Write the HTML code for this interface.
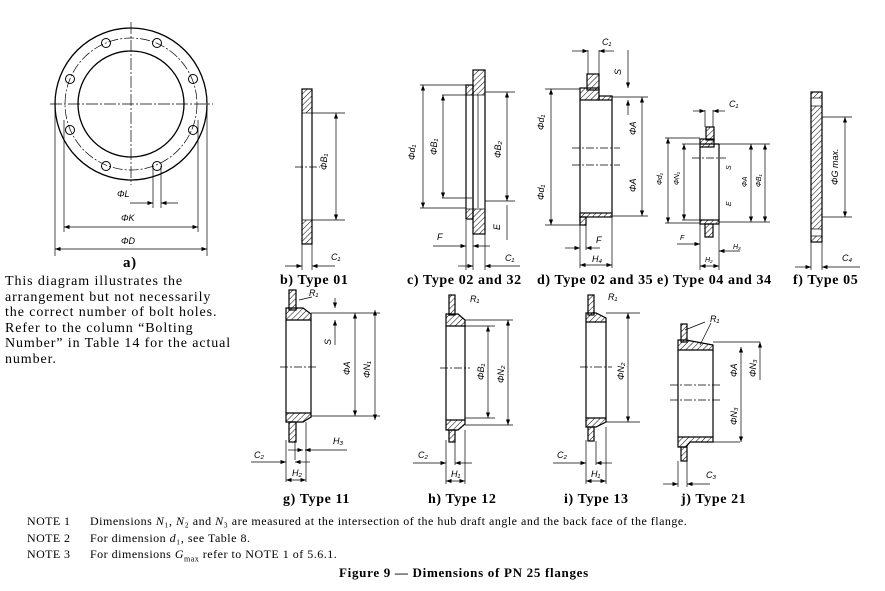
<!DOCTYPE html>
<html><head><meta charset="utf-8"><style>
body{margin:0;background:#fff;width:885px;height:591px;overflow:hidden;position:relative;font-family:"Liberation Serif",serif;color:#000}
.t{position:absolute;white-space:nowrap}
.b{font-weight:bold;font-size:14px;letter-spacing:0.6px}
svg text{font-family:"Liberation Sans",sans-serif;font-style:italic;font-size:9px;fill:#000}
</style></head><body>
<svg width="885" height="591" style="position:absolute;left:0;top:0">
<defs>
<pattern id="h" width="4" height="4" patternUnits="userSpaceOnUse" patternTransform="rotate(45)"><line x1="0" y1="0" x2="0" y2="4" stroke="#000" stroke-width="1"/></pattern>
<marker id="a" markerWidth="8" markerHeight="6" refX="8" refY="3" orient="auto-start-reverse"><path d="M0,0L8,3L0,6z" fill="#000"/></marker>
</defs>
<g fill="none" stroke="#000" stroke-width="0.7">
<circle cx="131" cy="104" r="76" stroke-width="1.3"/>
<circle cx="131" cy="104" r="66" stroke-dasharray="10,2,2,2"/>
<circle cx="131" cy="104" r="53" stroke-width="1.3"/>
<line x1="50" y1="104" x2="213" y2="104" stroke-dasharray="12,2,2,2"/>
<line x1="131" y1="22" x2="131" y2="185" stroke-dasharray="12,2,2,2"/>
<g stroke-width="1">
<circle cx="106" cy="43" r="4.5"/><circle cx="157" cy="43" r="4.5"/>
<circle cx="70" cy="79" r="4.5"/><circle cx="193" cy="79" r="4.5"/>
<circle cx="70" cy="130" r="4.5"/><circle cx="193" cy="130" r="4.5"/>
<circle cx="106" cy="166" r="4.5"/><circle cx="157" cy="166" r="4.5"/>
</g>
<line x1="55" y1="104" x2="55" y2="256"/><line x1="207" y1="104" x2="207" y2="256"/>
<line x1="64" y1="120" x2="64" y2="232"/><line x1="198" y1="120" x2="198" y2="232"/>
<line x1="153" y1="166" x2="153" y2="208"/><line x1="161" y1="166" x2="161" y2="208"/>
<line x1="130" y1="203" x2="153" y2="203" marker-end="url(#a)"/><line x1="178" y1="203" x2="161" y2="203" marker-end="url(#a)"/>
<line x1="64" y1="227" x2="198" y2="227" marker-start="url(#a)" marker-end="url(#a)"/>
<line x1="55" y1="249" x2="207" y2="249" marker-start="url(#a)" marker-end="url(#a)"/>
<rect x="302" y="89" width="10" height="155" stroke-width="1.2"/>
<rect x="302" y="89" width="10" height="24" fill="url(#h)"/><rect x="302" y="220" width="10" height="24" fill="url(#h)"/>
<line x1="312" y1="113" x2="345" y2="113"/><line x1="312" y1="220" x2="345" y2="220"/>
<line x1="336" y1="113" x2="336" y2="220" marker-start="url(#a)" marker-end="url(#a)"/>
<line x1="295" y1="167" x2="320" y2="167" stroke-dasharray="8,2,2,2"/>
<line x1="302" y1="244" x2="302" y2="270"/><line x1="312" y1="244" x2="312" y2="270"/>
<line x1="285" y1="266" x2="302" y2="266" marker-end="url(#a)"/><line x1="335" y1="266" x2="312" y2="266" marker-end="url(#a)"/>
<rect x="473" y="70" width="12" height="164" stroke-width="1.2"/>
<rect x="466" y="85" width="7" height="134" stroke-width="1.2"/>
<line x1="478" y1="95" x2="478" y2="208"/>
<rect x="473" y="70" width="12" height="25" fill="url(#h)"/><rect x="473" y="209" width="12" height="25" fill="url(#h)"/>
<rect x="466" y="85" width="7" height="10" fill="url(#h)"/><rect x="466" y="209" width="7" height="10" fill="url(#h)"/>
<line x1="420" y1="85" x2="466" y2="85"/><line x1="420" y1="208" x2="466" y2="208"/>
<line x1="423" y1="85" x2="423" y2="208" marker-start="url(#a)" marker-end="url(#a)"/>
<line x1="442" y1="95" x2="472" y2="95"/><line x1="442" y1="198" x2="472" y2="198"/>
<line x1="443" y1="95" x2="443" y2="198" marker-start="url(#a)" marker-end="url(#a)"/>
<line x1="485" y1="92" x2="515" y2="92"/><line x1="485" y1="201" x2="515" y2="201"/>
<line x1="507" y1="92" x2="507" y2="201" marker-start="url(#a)" marker-end="url(#a)"/>
<line x1="507" y1="205" x2="507" y2="240"/>
<line x1="433" y1="246" x2="466" y2="246" marker-end="url(#a)"/><line x1="490" y1="246" x2="473" y2="246" marker-end="url(#a)"/>
<line x1="466" y1="220" x2="466" y2="270"/><line x1="473" y1="234" x2="473" y2="270"/><line x1="485" y1="234" x2="485" y2="270"/>
<line x1="458" y1="266" x2="473" y2="266" marker-end="url(#a)"/><line x1="520" y1="266" x2="485" y2="266" marker-end="url(#a)"/>
<rect x="587" y="74" width="12" height="16" fill="url(#h)" stroke-width="1.2"/>
<rect x="580" y="88" width="19" height="12" fill="url(#h)" stroke-width="1.2"/>
<rect x="599" y="96" width="13" height="4" fill="url(#h)" stroke-width="1.2"/>
<line x1="580" y1="100" x2="580" y2="223" stroke-width="1.2"/><line x1="612" y1="100" x2="612" y2="213" stroke-width="1.2"/>
<rect x="580" y="213" width="32" height="4" fill="url(#h)" stroke-width="1.2"/>
<rect x="580" y="217" width="6" height="8" fill="url(#h)" stroke-width="1.2"/>
<line x1="572" y1="148" x2="620" y2="148" stroke-dasharray="8,2,2,2"/><line x1="572" y1="165" x2="620" y2="165" stroke-dasharray="8,2,2,2"/>
<line x1="545" y1="89" x2="580" y2="89"/><line x1="545" y1="225" x2="580" y2="225"/>
<line x1="551" y1="89" x2="551" y2="225" marker-start="url(#a)" marker-end="url(#a)"/>
<line x1="612" y1="97" x2="648" y2="97"/><line x1="612" y1="216" x2="648" y2="216"/>
<line x1="642" y1="97" x2="642" y2="216" marker-start="url(#a)" marker-end="url(#a)"/>
<line x1="628" y1="50" x2="628" y2="88" marker-end="url(#a)"/><line x1="628" y1="115" x2="628" y2="100" marker-end="url(#a)"/>
<line x1="588" y1="50" x2="588" y2="74"/><line x1="599" y1="50" x2="599" y2="74"/>
<line x1="572" y1="51" x2="588" y2="51" marker-end="url(#a)"/><line x1="614" y1="51" x2="599" y2="51" marker-end="url(#a)"/>
<line x1="580" y1="225" x2="580" y2="268"/><line x1="612" y1="217" x2="612" y2="268"/><line x1="586" y1="225" x2="586" y2="250"/>
<line x1="565" y1="248" x2="580" y2="248" marker-end="url(#a)"/><line x1="600" y1="248" x2="586" y2="248" marker-end="url(#a)"/>
<line x1="580" y1="265" x2="612" y2="265" marker-start="url(#a)" marker-end="url(#a)"/>
<rect x="706" y="127" width="8" height="13" fill="url(#h)" stroke-width="1.2"/>
<rect x="700" y="139" width="14" height="8" fill="url(#h)" stroke-width="1.2"/>
<line x1="700" y1="147" x2="700" y2="220" stroke-width="1.2"/><line x1="719" y1="144" x2="719" y2="220" stroke-width="1.2"/>
<line x1="700" y1="144" x2="719" y2="144" stroke-width="1.2"/>
<rect x="700" y="220" width="19" height="4" fill="url(#h)" stroke-width="1.2"/>
<rect x="705" y="224" width="8" height="13" fill="url(#h)" stroke-width="1.2"/>
<line x1="665" y1="138" x2="700" y2="138"/><line x1="665" y1="223" x2="700" y2="223"/>
<line x1="668" y1="138" x2="668" y2="223" marker-start="url(#a)" marker-end="url(#a)"/>
<line x1="682" y1="144" x2="700" y2="144"/><line x1="682" y1="220" x2="700" y2="220"/>
<line x1="684" y1="144" x2="684" y2="220" marker-start="url(#a)" marker-end="url(#a)"/>
<line x1="719" y1="144" x2="770" y2="144"/><line x1="719" y1="222" x2="770" y2="222"/>
<line x1="751" y1="144" x2="751" y2="222" marker-start="url(#a)" marker-end="url(#a)"/>
<line x1="765" y1="144" x2="765" y2="222" marker-start="url(#a)" marker-end="url(#a)"/>
<line x1="705" y1="110" x2="705" y2="127"/><line x1="713" y1="110" x2="713" y2="127"/>
<line x1="693" y1="111" x2="705" y2="111" marker-end="url(#a)"/><line x1="725" y1="111" x2="713" y2="111" marker-end="url(#a)"/>
<line x1="700" y1="224" x2="700" y2="270"/><line x1="719" y1="224" x2="719" y2="270"/>
<line x1="700" y1="266" x2="719" y2="266" marker-start="url(#a)" marker-end="url(#a)"/>
<line x1="677" y1="244" x2="700" y2="244" marker-end="url(#a)"/><line x1="740" y1="251" x2="719" y2="251" marker-end="url(#a)"/>
<line x1="692" y1="158" x2="726" y2="158" stroke-dasharray="8,2,2,2"/>
<rect x="811" y="92" width="11" height="150" stroke-width="1.2"/>
<rect x="811" y="92" width="11" height="6" fill="url(#h)"/><rect x="811" y="106" width="11" height="123" fill="url(#h)"/><rect x="811" y="236" width="11" height="6" fill="url(#h)"/>
<line x1="822" y1="117" x2="852" y2="117"/><line x1="822" y1="217" x2="852" y2="217"/>
<line x1="845" y1="117" x2="845" y2="217" marker-start="url(#a)" marker-end="url(#a)"/>
<line x1="811" y1="242" x2="811" y2="270"/><line x1="822" y1="242" x2="822" y2="270"/>
<line x1="795" y1="267" x2="811" y2="267" marker-end="url(#a)"/><line x1="860" y1="267" x2="822" y2="267" marker-end="url(#a)"/>
<rect x="289" y="290" width="7" height="20" fill="url(#h)" stroke-width="1.2"/>
<path d="M286,308H303L311,314V320H286Z" fill="url(#h)" stroke-width="1.2"/>
<line x1="286" y1="320" x2="286" y2="413" stroke-width="1.2"/><line x1="311" y1="320" x2="311" y2="413" stroke-width="1.2"/>
<path d="M286,413H311V417L303,422H286Z" fill="url(#h)" stroke-width="1.2"/>
<rect x="289" y="422" width="7" height="20" fill="url(#h)" stroke-width="1.2"/>
<line x1="280" y1="367" x2="316" y2="367" stroke-dasharray="8,2,2,2"/>
<line x1="311" y1="313" x2="380" y2="313"/><line x1="311" y1="416" x2="380" y2="416"/>
<line x1="355" y1="313" x2="355" y2="416" marker-start="url(#a)" marker-end="url(#a)"/>
<line x1="375" y1="310" x2="375" y2="420" marker-start="url(#a)" marker-end="url(#a)"/>
<line x1="335" y1="298" x2="335" y2="308" marker-end="url(#a)"/><line x1="335" y1="345" x2="335" y2="320" marker-end="url(#a)"/>
<line x1="286" y1="440" x2="286" y2="482"/><line x1="306" y1="422" x2="306" y2="482"/><line x1="295" y1="442" x2="295" y2="460"/>
<line x1="251" y1="462" x2="286" y2="462" marker-end="url(#a)"/><line x1="310" y1="462" x2="295" y2="462" marker-end="url(#a)"/>
<line x1="286" y1="480" x2="306" y2="480" marker-start="url(#a)" marker-end="url(#a)"/>
<line x1="288" y1="450" x2="303" y2="450" marker-end="url(#a)"/><line x1="347" y1="450" x2="305" y2="450" marker-end="url(#a)"/>
<line x1="299" y1="300" x2="312" y2="297"/>
<rect x="449" y="295" width="6" height="20" fill="url(#h)" stroke-width="1.2"/>
<path d="M446,314H458L465,320V326H446Z" fill="url(#h)" stroke-width="1.2"/>
<line x1="446" y1="326" x2="446" y2="420" stroke-width="1.2"/><line x1="465" y1="326" x2="465" y2="420" stroke-width="1.2"/>
<path d="M446,420H465V424L458,430H446Z" fill="url(#h)" stroke-width="1.2"/>
<rect x="449" y="430" width="6" height="12" fill="url(#h)" stroke-width="1.2"/>
<line x1="440" y1="368" x2="470" y2="368" stroke-dasharray="8,2,2,2"/>
<line x1="465" y1="320" x2="513" y2="320"/><line x1="465" y1="425" x2="513" y2="425"/>
<line x1="465" y1="326" x2="495" y2="326"/><line x1="465" y1="418" x2="495" y2="418"/>
<line x1="488" y1="326" x2="488" y2="418" marker-start="url(#a)" marker-end="url(#a)"/>
<line x1="508" y1="320" x2="508" y2="425" marker-start="url(#a)" marker-end="url(#a)"/>
<line x1="446" y1="440" x2="446" y2="484"/><line x1="465" y1="430" x2="465" y2="484"/><line x1="455" y1="442" x2="455" y2="465"/>
<line x1="413" y1="463" x2="446" y2="463" marker-end="url(#a)"/><line x1="472" y1="463" x2="455" y2="463" marker-end="url(#a)"/>
<line x1="446" y1="481" x2="465" y2="481" marker-start="url(#a)" marker-end="url(#a)"/>
<rect x="588" y="295" width="6" height="20" fill="url(#h)" stroke-width="1.2"/>
<path d="M586,313H596L606,318V322H586Z" fill="url(#h)" stroke-width="1.2"/>
<line x1="586" y1="322" x2="586" y2="418" stroke-width="1.2"/><line x1="606" y1="322" x2="606" y2="418" stroke-width="1.2"/>
<path d="M586,418H606V422L596,427H586Z" fill="url(#h)" stroke-width="1.2"/>
<rect x="588" y="427" width="6" height="14" fill="url(#h)" stroke-width="1.2"/>
<line x1="580" y1="367" x2="612" y2="367" stroke-dasharray="8,2,2,2"/>
<line x1="606" y1="313" x2="640" y2="313"/><line x1="606" y1="422" x2="640" y2="422"/>
<line x1="628" y1="313" x2="628" y2="422" marker-start="url(#a)" marker-end="url(#a)"/>
<line x1="586" y1="440" x2="586" y2="484"/><line x1="606" y1="427" x2="606" y2="484"/><line x1="596" y1="441" x2="596" y2="465"/>
<line x1="553" y1="463" x2="586" y2="463" marker-end="url(#a)"/><line x1="612" y1="463" x2="596" y2="463" marker-end="url(#a)"/>
<line x1="586" y1="481" x2="606" y2="481" marker-start="url(#a)" marker-end="url(#a)"/>
<rect x="681" y="324" width="6" height="18" fill="url(#h)" stroke-width="1.2"/>
<path d="M678,340H686L713,345V350H678Z" fill="url(#h)" stroke-width="1.2"/>
<line x1="678" y1="350" x2="678" y2="437" stroke-width="1.2"/><line x1="713" y1="350" x2="713" y2="437" stroke-width="1.2"/>
<line x1="670" y1="385" x2="720" y2="385" stroke-dasharray="8,2,2,2"/><line x1="670" y1="400" x2="720" y2="400" stroke-dasharray="8,2,2,2"/>
<path d="M678,437H713V442H690L686,447H678Z" fill="url(#h)" stroke-width="1.2"/>
<rect x="681" y="447" width="6" height="14" fill="url(#h)" stroke-width="1.2"/>
<line x1="713" y1="342" x2="760" y2="342"/><line x1="713" y1="442" x2="740" y2="442"/>
<line x1="741" y1="347" x2="741" y2="442" marker-start="url(#a)" marker-end="url(#a)"/>
<line x1="760" y1="342" x2="760" y2="380" marker-start="url(#a)"/>
<line x1="685" y1="330" x2="705" y2="322"/><line x1="700" y1="345" x2="711" y2="323"/>
<line x1="678" y1="461" x2="678" y2="487"/><line x1="687" y1="461" x2="687" y2="487"/>
<line x1="663" y1="484" x2="678" y2="484" marker-end="url(#a)"/><line x1="710" y1="484" x2="687" y2="484" marker-end="url(#a)"/>
</g>
<text x="117" y="197">ΦL</text><text x="121" y="221">ΦK</text><text x="121" y="244">ΦD</text>
<text x="331" y="260">C₁</text>
<text transform="translate(327,170) rotate(-90)">ΦB₁</text>
<text transform="translate(415,160) rotate(-90)">Φd₁</text>
<text transform="translate(437,155) rotate(-90)">ΦB₁</text>
<text transform="translate(501,158) rotate(-90)">ΦB₂</text>
<text transform="translate(500,230) rotate(-90)">E</text>
<text x="437" y="240">F</text><text x="505" y="261">C₁</text>
<text x="602" y="45">C₁</text><text transform="translate(621,75) rotate(-90)">S</text>
<text transform="translate(544,130) rotate(-90)">Φd₁</text>
<text transform="translate(544,200) rotate(-90)">Φd₁</text>
<text transform="translate(636,135) rotate(-90)">ΦA</text>
<text transform="translate(636,192) rotate(-90)">ΦA</text>
<text x="596" y="243">F</text><text x="592" y="262">H₄</text>
<text x="729" y="107">C₁</text><text transform="translate(662,185) rotate(-90)" style="font-size:7px">Φd₁</text>
<text transform="translate(679,185) rotate(-90)" style="font-size:7px">ΦN₁</text>
<text transform="translate(731,170) rotate(-90)" style="font-size:7px">S</text>
<text transform="translate(731,206) rotate(-90)" style="font-size:7px">E</text>
<text transform="translate(747,187) rotate(-90)" style="font-size:7px">ΦA</text>
<text transform="translate(761,187) rotate(-90)" style="font-size:7px">ΦB₁</text>
<text x="680" y="240" style="font-size:7px">F</text><text x="733" y="249" style="font-size:7px">H₃</text><text x="705" y="262" style="font-size:7px">H₂</text>
<text transform="translate(838,185) rotate(-90)">ΦG max.</text>
<text x="842" y="261">C₄</text>
<text x="309" y="296">R₁</text><text transform="translate(331,345) rotate(-90)">S</text>
<text transform="translate(350,375) rotate(-90)">ΦA</text><text transform="translate(370,378) rotate(-90)">ΦN₁</text>
<text x="333" y="444">H₃</text><text x="254" y="458">C₂</text><text x="292" y="476">H₂</text>
<text x="470" y="302">R₁</text><text transform="translate(484,380) rotate(-90)">ΦB₁</text><text transform="translate(504,383) rotate(-90)">ΦN₂</text>
<text x="418" y="458">C₂</text><text x="451" y="477">H₁</text>
<text x="608" y="300">R₁</text><text transform="translate(624,380) rotate(-90)">ΦN₂</text>
<text x="557" y="458">C₂</text><text x="591" y="477">H₁</text>
<text x="710" y="322">R₁</text><text transform="translate(737,377) rotate(-90)">ΦA</text><text transform="translate(756,377) rotate(-90)">ΦN₃</text>
<text transform="translate(737,425) rotate(-90)">ΦN₃</text><text x="706" y="478">C₃</text>
</svg>
<div class="t b" style="left:123px;top:255px;font-size:15px">a)</div>
<div class="t" style="left:5px;top:274px;font-size:14px;line-height:15.5px;letter-spacing:0.9px">This diagram illustrates the<br>arrangement but not necessarily<br>the correct number of bolt holes.<br>Refer to the column “Bolting<br>Number” in Table 14 for the actual<br>number.</div>
<div class="t b" style="left:280px;top:273px">b) Type 01</div>
<div class="t b" style="left:407px;top:273px">c) Type 02 and 32</div>
<div class="t b" style="left:537px;top:273px">d) Type 02 and 35</div>
<div class="t b" style="left:657px;top:273px">e) Type 04 and 34</div>
<div class="t b" style="left:793px;top:273px">f) Type 05</div>
<div class="t b" style="left:283px;top:492px">g) Type 11</div>
<div class="t b" style="left:428px;top:492px">h) Type 12</div>
<div class="t b" style="left:564px;top:492px">i) Type 13</div>
<div class="t b" style="left:681px;top:492px">j) Type 21</div>
<div class="t" style="left:27px;top:513px;font-size:12px;line-height:16.5px;letter-spacing:0.4px">NOTE 1<br>NOTE 2<br>NOTE 3</div>
<div class="t" style="left:90px;top:513px;font-size:12px;line-height:16.5px;letter-spacing:0.5px">Dimensions <i>N</i>₁, <i>N</i>₂ and <i>N</i>₃ are measured at the intersection of the hub draft angle and the back face of the flange.<br>For dimension <i>d</i>₁, see Table 8.<br>For dimensions <i>G</i><sub style="font-size:8px">max</sub> refer to NOTE 1 of 5.6.1.</div>
<div class="t" style="left:339px;top:565px;font-size:13px;font-weight:bold;letter-spacing:0.7px">Figure 9 — Dimensions of PN 25 flanges</div>
</body></html>
